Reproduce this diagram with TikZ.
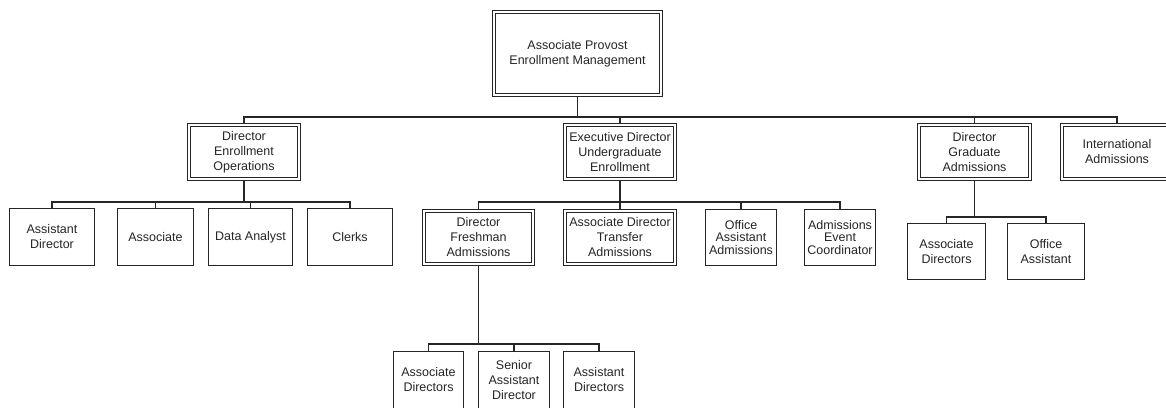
\documentclass[tikz,border=0pt]{standalone}
\usepackage{fontspec}
\setmainfont{Liberation Sans}
\usepackage{tikz}
\tikzset{post/.style={draw=black!85,line width=1.1pt,fill=white,align=center,inner sep=1pt,outer sep=0.55pt,text=black!85,font=\fontsize{12.5}{15}\selectfont},
  headpost/.style={post,double,double distance=1.8pt,outer sep=2pt},
  link/.style={draw=black!85,line width=1.1pt}}

\begin{document}
\begin{tikzpicture}[x=1pt,y=-1pt]
            \path[use as bounding box,clip] (0,0) rectangle (1166,407);
            % top
            \node[headpost,minimum width=167pt,minimum height=83pt] (provost) at (577.5,53.5) {Associate Provost\\Enrollment Management};

            % second row
            \node[headpost,minimum width=110pt,minimum height=54pt] (deo) at (244,152) {Director\\Enrollment\\Operations};
            \node[headpost,minimum width=110pt,minimum height=54pt] (edu) at (620,152) {Executive Director\\Undergraduate\\Enrollment};
            \node[headpost,minimum width=111pt,minimum height=54pt] (dga) at (974.5,152) {Director\\Graduate\\Admissions};
            \node[headpost,minimum width=110pt,minimum height=54pt] (intl) at (1117,152) {International\\Admissions};

            % under enrollment operations
            \node[post,minimum width=85pt,minimum height=57pt] (asd) at (52,237) {Assistant\\Director};
            \node[post,minimum width=76pt,minimum height=57pt] (assoc) at (155.5,237) {Associate};
            \node[post,minimum width=84pt,minimum height=57pt] (data) at (250.5,237) {Data Analyst};
            \node[post,minimum width=85pt,minimum height=57pt] (clerks) at (350,237) {Clerks};

            % under undergraduate enrollment
            \node[headpost,minimum width=109pt,minimum height=53pt] (dfa) at (478.5,237.5) {Director\\Freshman\\Admissions};
            \node[headpost,minimum width=110pt,minimum height=53pt] (adt) at (620,237.5) {Associate Director\\Transfer\\Admissions};
            \node[post,minimum width=71pt,minimum height=56pt,font=\fontsize{12.5}{12.5}\selectfont] (oaa) at (741,237.5) {Office\\Assistant\\Admissions};
            \node[post,minimum width=71pt,minimum height=56pt,font=\fontsize{12.5}{12.5}\selectfont] (aec) at (840,237.5) {Admissions\\Event\\Coordinator};

            % under graduate admissions
            \node[post,minimum width=78pt,minimum height=56pt] (gad) at (946.5,251.5) {Associate\\Directors};
            \node[post,minimum width=77pt,minimum height=56pt] (goa) at (1046,251.5) {Office\\Assistant};

            % under freshman admissions
            \node[post,minimum width=70pt,minimum height=57pt] (fad) at (428.5,380) {Associate\\Directors};
            \node[post,minimum width=71pt,minimum height=57pt] (fsad) at (514,380) {Senior\\Assistant\\Director};
            \node[post,minimum width=71pt,minimum height=57pt] (fasd) at (599,380) {Assistant\\Directors};

            % connectors
            \draw[link] (provost.south) -- ++(0,20) coordinate (bus0);
            \foreach \n in {deo,edu,dga,intl} \draw[link] (bus0) -| (\n.north);
            \draw[link] (deo.south) -- ++(0,21) coordinate (bus1);
            \foreach \n in {asd,assoc,data,clerks} \draw[link] (bus1) -| (\n.north);
            \draw[link] (edu.south) -- ++(0,21) coordinate (bus2);
            \foreach \n in {dfa,adt,oaa,aec} \draw[link] (bus2) -| (\n.north);
            \draw[link] (dga.south) -- ++(0,36) coordinate (bus3);
            \foreach \n in {gad,goa} \draw[link] (bus3) -| (\n.north);
            \draw[link] (dfa.south) -- ++(0,78) coordinate (bus4);
            \foreach \n in {fad,fsad,fasd} \draw[link] (bus4) -| (\n.north);
\end{tikzpicture}
\end{document}
